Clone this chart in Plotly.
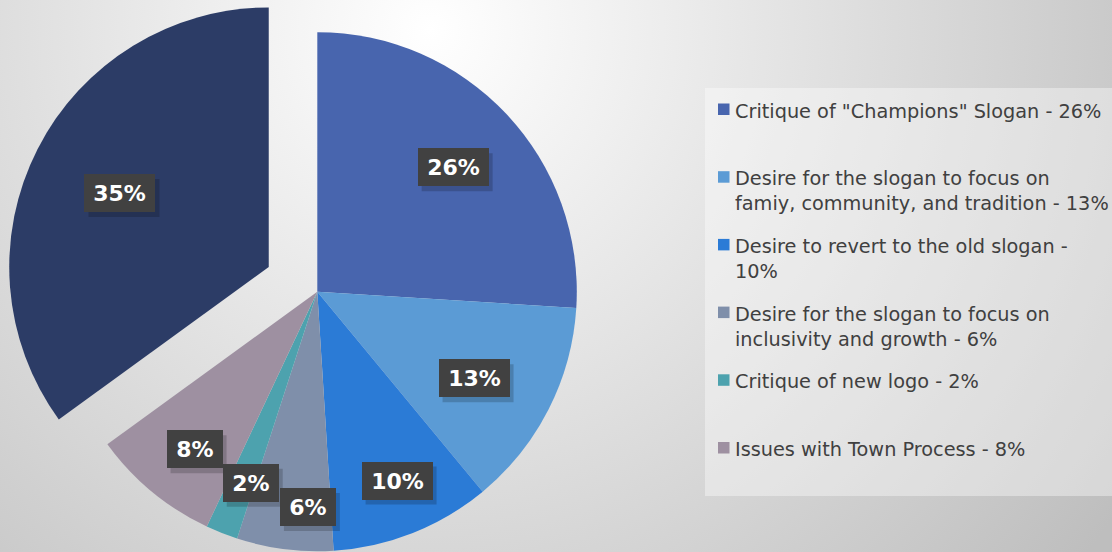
import math
import base64
import plotly.graph_objects as go

# ---------------- data ----------------
categories = [
    'Critique of "Champions" Slogan',
    'Desire for the slogan to focus on famiy, community, and tradition',
    'Desire to revert to the old slogan',
    'Desire for the slogan to focus on inclusivity and growth',
    'Critique of new logo',
    'Issues with Town Process',
    'Other',
]
values = [26, 13, 10, 6, 2, 8, 35]
legend_labels = [
    'Critique of "Champions" Slogan - 26%',
    'Desire for the slogan to focus on<br>famiy, community, and tradition - 13%',
    'Desire to revert to the old slogan -<br>10%',
    'Desire for the slogan to focus on<br>inclusivity and growth - 6%',
    'Critique of new logo - 2%',
    'Issues with Town Process - 8%',
]
colors = ['#4865AE', '#5B9BD5', '#2B7BD6', '#7F8FAA', '#4DA2AE', '#9E90A1', '#2C3C66']
pulled_index = 6
pull = 0.21

# label placement: (radial fraction, angle nudge in degrees)
label_place = [(0.71, 0.7), (0.69, 1.9), (0.79, -1.3), (0.83, -4.7),
               (0.78, -2.4), (0.77, -1.7), (0.64, -0.6)]

# ---------------- layout geometry ----------------
W, H = 1112, 552
cx, cy, r = 317.3, 291.7, 259.5
total = float(sum(values))
mids = []
acc = 0.0
for v in values:
    mids.append((acc + v / 2.0) / total * 360.0)
    acc += v

pa = math.radians(mids[pulled_index])
pcx = cx + pull * r * math.sin(pa)
pcy = cy - pull * r * math.cos(pa)


def dom(ccx, ccy):
    return dict(x=[(ccx - r) / W, (ccx + r) / W],
                y=[(H - ccy - r) / H, (H - ccy + r) / H])


TRANSP = 'rgba(0,0,0,0)'
main_colors = [c if i != pulled_index else TRANSP for i, c in enumerate(colors)]
pulled_colors = [c if i == pulled_index else TRANSP for i, c in enumerate(colors)]

fig = go.Figure()
fig.add_trace(go.Pie(
    labels=categories, values=values, sort=False, direction='clockwise',
    rotation=0, domain=dom(cx, cy), textinfo='none', hoverinfo='label+percent',
    marker=dict(colors=main_colors, line=dict(width=0)), showlegend=False,
))
fig.add_trace(go.Pie(
    labels=categories, values=values, sort=False, direction='clockwise',
    rotation=0, domain=dom(pcx, pcy), textinfo='none', hoverinfo='skip',
    marker=dict(colors=pulled_colors, line=dict(width=0)), showlegend=False,
))

annotations = []
shapes = [dict(type='rect', xref='paper', yref='paper',
               x0=705 / W, x1=1.0, y0=1 - 496 / H, y1=1 - 88 / H,
               fillcolor='rgba(255,255,255,0.38)', line=dict(width=0), layer='below')]

# data labels
BOX_H = 38
for i, v in enumerate(values):
    frac, nudge = label_place[i]
    ccx, ccy = (pcx, pcy) if i == pulled_index else (cx, cy)
    a = math.radians(mids[i] + nudge)
    px = ccx + frac * r * math.sin(a)
    py = ccy - frac * r * math.cos(a)
    txt = f'{v}%'
    bw = 15 * len(txt) + 12
    ow = bw + 14
    # soft shadow behind the label box
    shapes.append(dict(type='rect', xref='paper', yref='paper', layer='above',
                       x0=(px - ow / 2 + 4) / W, x1=(px + ow / 2 + 4) / W,
                       y0=1 - (py + BOX_H / 2 + 5) / H, y1=1 - (py - BOX_H / 2 + 5) / H,
                       fillcolor='rgba(0,0,0,0.18)', line=dict(width=0)))
    annotations.append(dict(
        x=px / W, y=1 - py / H, xref='paper', yref='paper',
        text=f'<b>{txt}</b>', showarrow=False, xanchor='center', yanchor='middle',
        width=bw, height=BOX_H - 14, borderpad=7, borderwidth=0, bgcolor='#414141',
        font=dict(family='DejaVu Sans', size=22, color='white'),
    ))

# legend (manual, fixed item pitch like the original)
leg_top = 99.5
pitch = 67.7
for i, lab in enumerate(legend_labels):
    top = leg_top + i * pitch
    shapes.append(dict(type='rect', xref='paper', yref='paper',
                       x0=718 / W, x1=729.5 / W,
                       y0=1 - (top + 15.5) / H, y1=1 - (top + 4) / H,
                       fillcolor=colors[i], line=dict(width=0)))
    annotations.append(dict(
        x=735 / W, y=1 - top / H, xref='paper', yref='paper', text=lab,
        showarrow=False, xanchor='left', yanchor='top', align='left',
        valign='top', height=60, borderpad=0, borderwidth=0,
        font=dict(family='DejaVu Sans', size=19.3, color='#404040'),
    ))

svg = ("<svg xmlns='http://www.w3.org/2000/svg' width='1112' height='552'>"
       "<defs><radialGradient id='g' gradientUnits='userSpaceOnUse' cx='430' cy='30' r='840'>"
       "<stop offset='0' stop-color='#ffffff'/><stop offset='1' stop-color='#bebebe'/>"
       "</radialGradient></defs><rect width='1112' height='552' fill='url(#g)'/></svg>")
bg_src = 'data:image/svg+xml;base64,' + base64.b64encode(svg.encode()).decode()

fig.update_layout(
    width=W, height=H, margin=dict(l=0, r=0, t=0, b=0),
    paper_bgcolor='#e2e2e2', plot_bgcolor='rgba(0,0,0,0)',
    showlegend=False, annotations=annotations, shapes=shapes,
    images=[dict(source=bg_src, xref='paper', yref='paper', x=0, y=1,
                 sizex=1, sizey=1, xanchor='left', yanchor='top',
                 sizing='stretch', layer='below')],
)

fig.write_html('out.html', config={'displayModeBar': False},
               post_script="document.body.style.margin='0';"
                           "document.body.style.overflow='hidden';")
